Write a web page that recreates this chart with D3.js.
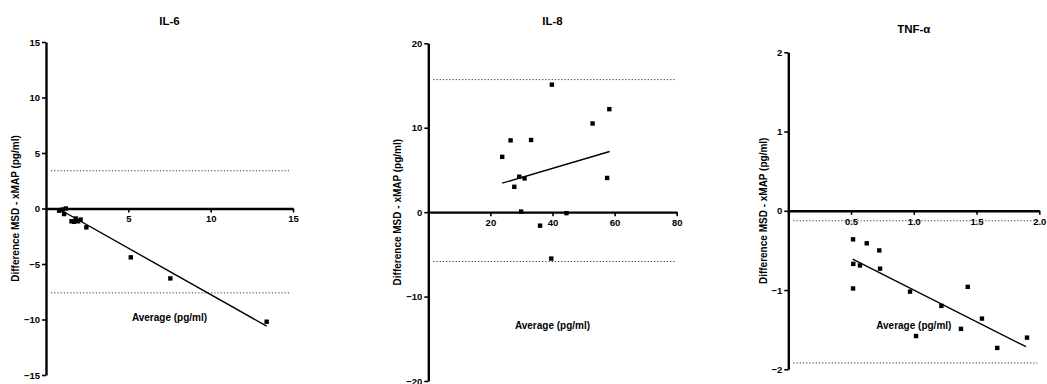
<!DOCTYPE html>
<html>
<head>
<meta charset="utf-8">
<script src="https://cdn.jsdelivr.net/npm/d3@7"></script>
<style>
  body { margin: 0; background: #fff; }
  svg text { font-family: "Liberation Sans", Arial, sans-serif; font-weight: bold; fill: #000; }
</style>
</head>
<body>
<div id="chart"></div>
<script>
// IL-6 (average vs difference)
const il6Avg  = [0.8, 1.0, 1.2, 1.1, 1.55, 1.7, 1.8, 1.95, 2.1, 2.45, 5.15, 7.55, 13.4];
const il6Diff = [-0.2, -0.1, 0.0, -0.5, -1.15, -1.2, -0.9, -1.15, -1.0, -1.7, -4.4, -6.3, -10.2];
const il6Limits = [3.4, -7.6];
const il6Fit = [[0.73, 0.0], [13.4, -10.6]];

// IL-8
const il8Avg  = [23.8, 26.5, 27.7, 29.3, 31.0, 33.1, 39.8, 52.9, 58.3, 57.6, 29.9, 44.5, 36.0, 39.6];
const il8Diff = [6.55, 8.5, 3.0, 4.2, 4.0, 8.55, 15.1, 10.5, 12.2, 4.05, 0.07, -0.12, -1.6, -5.5];
const il8Limits = [15.7, -5.85];
const il8Fit = [[23.8, 3.43], [58.4, 7.18]];

// TNF-alpha
const tnfAvg  = [0.516, 0.625, 0.725, 0.518, 0.571, 0.731, 0.516, 0.97, 1.018, 1.22, 1.43, 1.376, 1.543, 1.665, 1.902];
const tnfDiff = [-0.36, -0.41, -0.5, -0.67, -0.69, -0.73, -0.98, -1.02, -1.58, -1.2, -0.96, -1.49, -1.36, -1.73, -1.6];
const tnfLimits = [-0.126, -1.92];
const tnfFit = [[0.513, -0.61], [1.894, -1.715]];

const titles = ["IL-6", "IL-8", "TNF-\u03b1"];
const xTicks = [[5, 10, 15], [20, 40, 60, 80], [0.5, 1.0, 1.5, 2.0]];
const yTicks = [[-15, -10, -5, 0, 5, 10, 15], [-20, -10, 0, 10, 20], [-2, -1, 0, 1, 2]];
const xDomains = [[0, 15], [0, 80], [0, 2]];
const yDomains = [[-15, 15], [-20, 20], [-2, 2]];

const panels = [
  { avg: il6Avg, diff: il6Diff, limits: il6Limits, fit: il6Fit, fmt: d3.format("d"),
    left: 46, right: 293, top: 42, bottom: 375, titleY: 25, xLabY: 321, yLabX: 15 },
  { avg: il8Avg, diff: il8Diff, limits: il8Limits, fit: il8Fit, fmt: d3.format("d"),
    left: 428.3, right: 676.7, top: 43.3, bottom: 381, titleY: 25, xLabY: 328.5, yLabX: 397 },
  { avg: tnfAvg, diff: tnfDiff, limits: tnfLimits, fit: tnfFit, fmt: d3.format(".1f"),
    left: 788.3, right: 1039.3, top: 52.3, bottom: 369.3, titleY: 33, xLabY: 328.5, yLabX: 763 }
];

const svg = d3.select("#chart")
  .append("svg")
  .attr("width", 1047)
  .attr("height", 384);

panels.forEach((p, i) => {
  const x = d3.scaleLinear().domain(xDomains[i]).range([p.left, p.right]);
  const y = d3.scaleLinear().domain(yDomains[i]).range([p.bottom, p.top]);
  const g = svg.append("g");

  // limits of agreement (dotted)
  g.selectAll(".limit").data(p.limits).enter()
    .append("line")
    .attr("x1", p.left + 5)
    .attr("x2", p.right - 2)
    .attr("y1", d => y(d))
    .attr("y2", d => y(d))
    .attr("stroke", "#333")
    .attr("stroke-width", 1)
    .attr("stroke-dasharray", "1.2,2");

  // axes
  const yAxis = g.append("g")
    .attr("transform", `translate(${p.left},0)`)
    .call(d3.axisLeft(y).tickValues(yTicks[i]).tickSize(4).tickSizeOuter(0).tickPadding(2).tickFormat(d3.format("d")));
  const xAxis = g.append("g")
    .attr("transform", `translate(0,${y(0)})`)
    .call(d3.axisBottom(x).tickValues(xTicks[i]).tickSize(4).tickSizeOuter(0).tickPadding(3).tickFormat(p.fmt));

  [xAxis, yAxis].forEach(a => {
    a.select(".domain").attr("stroke", "#000").attr("stroke-width", 2.4);
    a.selectAll(".tick line").attr("stroke", "#000").attr("stroke-width", 1.6);
    a.selectAll(".tick text").style("font-size", "9.5px").style("font-family", "'Liberation Sans', Arial, sans-serif").style("font-weight", "bold");
  });

  // regression line
  g.append("line")
    .attr("x1", x(p.fit[0][0])).attr("y1", y(p.fit[0][1]))
    .attr("x2", x(p.fit[1][0])).attr("y2", y(p.fit[1][1]))
    .attr("stroke", "#000")
    .attr("stroke-width", 1.4);

  // points
  const pts = p.avg.map((a, k) => ({ a: a, d: p.diff[k] }));
  g.selectAll(".pt").data(pts).enter()
    .append("rect")
    .attr("x", d => x(d.a) - 2.2)
    .attr("y", d => y(d.d) - 2.2)
    .attr("width", 4.4)
    .attr("height", 4.4)
    .attr("fill", "#000");

  // title
  g.append("text")
    .attr("x", (p.left + p.right) / 2)
    .attr("y", p.titleY)
    .attr("text-anchor", "middle")
    .style("font-size", "11.5px")
    .text(titles[i]);

  // axis titles
  g.append("text")
    .attr("x", (p.left + p.right) / 2)
    .attr("y", p.xLabY)
    .attr("text-anchor", "middle")
    .style("font-size", "10px")
    .text("Average (pg/ml)");

  g.append("text")
    .attr("transform", `translate(${p.yLabX},${(p.top + p.bottom) / 2}) rotate(-90)`)
    .attr("text-anchor", "middle")
    .attr("dy", "0.35em")
    .style("font-size", "10px")
    .text("Difference MSD - xMAP (pg/ml)");
});
</script>
</body>
</html>
